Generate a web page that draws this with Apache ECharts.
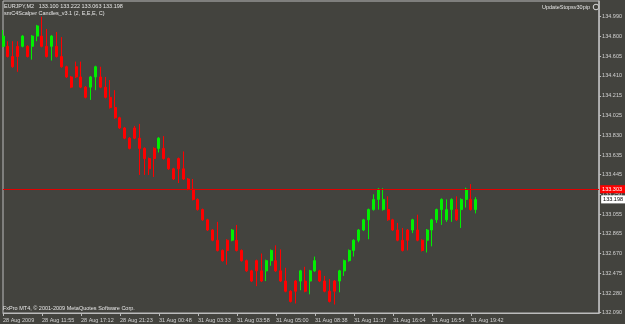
<!DOCTYPE html>
<html>
<head>
<meta charset="utf-8">
<script src="https://cdn.jsdelivr.net/npm/echarts@6.0.0/dist/echarts.min.js"></script>
<style>
  html, body { margin: 0; padding: 0; background: #43433e; }
  #chart { width: 625px; height: 324px; }
</style>
</head>
<body>
<div id="chart"></div>
<script>
// EURJPY M2, smC4Scalper candles, one entry per bar (left to right)
const opens = [
  134.70, 134.70, 134.60, 134.70, 134.70, 134.70, 134.70, 134.80, 134.80, 134.70,
  134.70, 134.70, 134.60, 134.50, 134.40, 134.50, 134.40, 134.30, 134.30, 134.40,
  134.40, 134.30, 134.20, 134.10, 134.00, 133.90, 133.80, 133.90, 133.80, 133.70,
  133.60, 133.70, 133.70, 133.70, 133.60, 133.50, 133.60, 133.50, 133.40, 133.30,
  133.20, 133.10, 133.00, 132.90, 132.80, 132.70, 132.80, 132.80, 132.80, 132.70,
  132.60, 132.50, 132.60, 132.50, 132.50, 132.60, 132.60, 132.50, 132.40, 132.30,
  132.40, 132.40, 132.40, 132.40, 132.50, 132.50, 132.40, 132.30, 132.40, 132.40,
  132.50, 132.60, 132.70, 132.80, 132.90, 133.00, 133.10, 133.20, 133.10, 133.10,
  133.00, 132.90, 132.80, 132.90, 132.90, 132.90, 132.80, 132.80, 132.90, 133.00,
  133.10, 133.00, 133.10, 133.10, 133.10, 133.20, 133.20, 133.100
];
const closes = [
  134.80, 134.60, 134.50, 134.60, 134.80, 134.60, 134.80, 134.90, 134.70, 134.60,
  134.80, 134.60, 134.50, 134.40, 134.30, 134.40, 134.30, 134.20, 134.40, 134.50,
  134.30, 134.20, 134.10, 134.00, 133.90, 133.80, 133.70, 133.80, 133.70, 133.60,
  133.50, 133.60, 133.80, 133.60, 133.50, 133.40, 133.50, 133.40, 133.30, 133.20,
  133.10, 133.00, 132.90, 132.80, 132.70, 132.60, 132.70, 132.90, 132.70, 132.60,
  132.50, 132.40, 132.50, 132.40, 132.60, 132.70, 132.50, 132.40, 132.30, 132.20,
  132.30, 132.50, 132.30, 132.50, 132.60, 132.40, 132.30, 132.20, 132.30, 132.50,
  132.60, 132.70, 132.80, 132.90, 133.00, 133.10, 133.20, 133.30, 133.20, 133.00,
  132.90, 132.80, 132.70, 132.80, 133.00, 132.80, 132.70, 132.90, 133.00, 133.10,
  133.20, 133.10, 133.20, 133.00, 133.20, 133.30, 133.10, 133.198
];
const lows = [
  134.69, 134.59, 134.49, 134.45, 134.69, 134.59, 134.57, 134.75, 134.69, 134.59,
  134.56, 134.59, 134.49, 134.39, 134.29, 134.39, 134.29, 134.19, 134.175, 134.27,
  134.29, 134.19, 134.09, 133.99, 133.89, 133.79, 133.69, 133.79, 133.44, 133.44,
  133.44, 133.42, 133.66, 133.59, 133.49, 133.39, 133.36, 133.39, 133.29, 133.19,
  133.09, 132.99, 132.89, 132.79, 132.69, 132.59, 132.56, 132.79, 132.69, 132.59,
  132.49, 132.39, 132.35, 132.39, 132.40, 132.55, 132.49, 132.39, 132.29, 132.19,
  132.18, 132.31, 132.29, 132.27, 132.49, 132.39, 132.29, 132.19, 132.17, 132.29,
  132.45, 132.59, 132.64, 132.78, 132.89, 132.81, 133.09, 133.10, 133.09, 132.99,
  132.89, 132.79, 132.69, 132.70, 132.87, 132.79, 132.69, 132.68, 132.74, 132.97,
  132.95, 132.98, 132.98, 132.99, 132.92, 133.12, 133.09, 133.063
];
const highs = [
  134.86, 134.75, 134.75, 134.75, 134.81, 134.71, 134.81, 134.91, 134.99, 134.87,
  134.81, 134.84, 134.79, 134.51, 134.41, 134.55, 134.55, 134.31, 134.41, 134.51,
  134.50, 134.40, 134.37, 134.27, 134.01, 133.91, 133.81, 133.92, 133.94, 133.71,
  133.61, 133.71, 133.81, 133.82, 133.61, 133.51, 133.61, 133.67, 133.41, 133.40,
  133.21, 133.11, 133.01, 132.91, 132.98, 132.71, 132.81, 132.91, 132.95, 132.71,
  132.61, 132.51, 132.61, 132.67, 132.61, 132.71, 132.75, 132.71, 132.53, 132.31,
  132.41, 132.51, 132.54, 132.51, 132.64, 132.51, 132.45, 132.42, 132.41, 132.51,
  132.61, 132.71, 132.81, 132.91, 133.01, 133.11, 133.25, 133.31, 133.31, 133.23,
  133.01, 132.97, 132.92, 132.91, 133.01, 133.05, 132.81, 132.91, 133.01, 133.11,
  133.21, 133.20, 133.21, 133.23, 133.21, 133.315, 133.35, 133.222
];

// time scale labels sit under every 8th bar
const xTickIndex = [0, 8, 16, 24, 32, 40, 48, 56, 64, 72, 80, 88, 96];
const xTickLabels = [
  '28 Aug 2009', '28 Aug 11:55', '28 Aug 17:12', '28 Aug 21:23', '31 Aug 00:48',
  '31 Aug 03:33', '31 Aug 03:58', '31 Aug 05:00', '31 Aug 08:38', '31 Aug 11:37',
  '31 Aug 16:04', '31 Aug 16:54', '31 Aug 19:42'
];
const yTickLabels = [
  '132.090', '132.280', '132.475', '132.670', '132.865', '133.055', '133.250', '133.445',
  '133.635', '133.830', '134.025', '134.215', '134.410', '134.605', '134.800', '134.990'
];
const stopLevel = 133.303;
const bidPrice = 133.198;

const FONT = 'Liberation Sans, Arial, sans-serif';
const FG = '#d2d2d2';
const FRAME = '#bcbcbc';

let candleData = opens.map((o, i) => [i, o, closes[i], lows[i], highs[i]]);
let yTickValues = yTickLabels.map(Number);

let chart = echarts.init(document.getElementById('chart'));

chart.setOption({
  backgroundColor: '#43433e',
  animation: false,
  textStyle: { fontFamily: FONT },
  grid: {
    left: 1.5, right: 23, top: 1, bottom: 11,
    show: true, borderColor: FRAME, borderWidth: 1, backgroundColor: '#43433e'
  },
  xAxis: {
    type: 'value',
    min: 0,
    max: 122.3,
    axisLine: { show: true, onZero: false, lineStyle: { color: FRAME } },
    axisTick: { show: true, length: 3, customValues: xTickIndex, lineStyle: { color: FRAME } },
    axisLabel: {
      customValues: xTickIndex,
      formatter: (v) => xTickLabels[xTickIndex.indexOf(Math.round(v))] || '',
      align: 'left',
      margin: 4,
      fontSize: 5.5,
      color: FG
    },
    splitLine: { show: false }
  },
  yAxis: {
    type: 'value',
    position: 'right',
    min: 132.087,
    max: 135.144,
    axisLine: { show: true, onZero: false, lineStyle: { color: FRAME, width: 1.5 } },
    axisTick: { show: true, length: 2, customValues: yTickValues, lineStyle: { color: FRAME } },
    axisLabel: {
      customValues: yTickValues,
      formatter: (v) => v.toFixed(3),
      margin: 3,
      fontSize: 5.5,
      color: FG
    },
    splitLine: { show: false }
  },
  series: [{
    type: 'candlestick',
    data: candleData,
    barWidth: 2.5,
    clip: true,
    itemStyle: {
      color: '#00f000',
      color0: '#ff0000',
      borderColor: '#00f000',
      borderColor0: '#ff0000',
      borderWidth: 1
    },
    markLine: {
      symbol: 'none',
      silent: true,
      animation: false,
      data: [
        {
          yAxis: bidPrice,
          lineStyle: { color: 'rgba(0,0,0,0)', width: 1 },
          label: {
            show: true, position: 'end', distance: 2,
            formatter: bidPrice.toFixed(3),
            backgroundColor: '#ffffff', color: '#000000',
            fontSize: 5.5, padding: [1, 6, 1, 2]
          }
        },
        {
          yAxis: stopLevel,
          lineStyle: { color: '#e00000', width: 1, type: 'solid' },
          label: {
            show: true, position: 'end', distance: 1,
            formatter: stopLevel.toFixed(3),
            backgroundColor: '#ff0000', color: '#ffffff',
            fontSize: 5.5, padding: [1, 6, 1, 2]
          }
        }
      ]
    }
  }],
  graphic: [
    {
      type: 'text', x: 4, y: 6,
      style: { text: 'EURJPY,M2   133.100 133.222 133.063 133.198', fill: '#e6e6e6', font: '5.5px ' + FONT, verticalAlign: 'middle' }
    },
    {
      type: 'text', x: 4, y: 13,
      style: { text: 'smC4Scalper Candles_v3.1 (2, E,E,E, C)', fill: '#e6e6e6', font: '5.5px ' + FONT, verticalAlign: 'middle' }
    },
    {
      type: 'text', x: 590, y: 7,
      style: { text: 'UpdateStopsv30pip', fill: '#e6e6e6', font: '5.5px ' + FONT, align: 'right', verticalAlign: 'middle' }
    },
    {
      type: 'circle', shape: { cx: 596, cy: 7, r: 2.8 },
      style: { fill: 'none', stroke: '#d8d8d8', lineWidth: 1 }
    },
    {
      type: 'text', x: 3, y: 308,
      style: { text: 'FxPro MT4, \u00a9 2001-2009 MetaQuotes Software Corp.', fill: '#e6e6e6', font: '5.5px ' + FONT, verticalAlign: 'middle' }
    }
  ]
});
</script>
</body>
</html>
